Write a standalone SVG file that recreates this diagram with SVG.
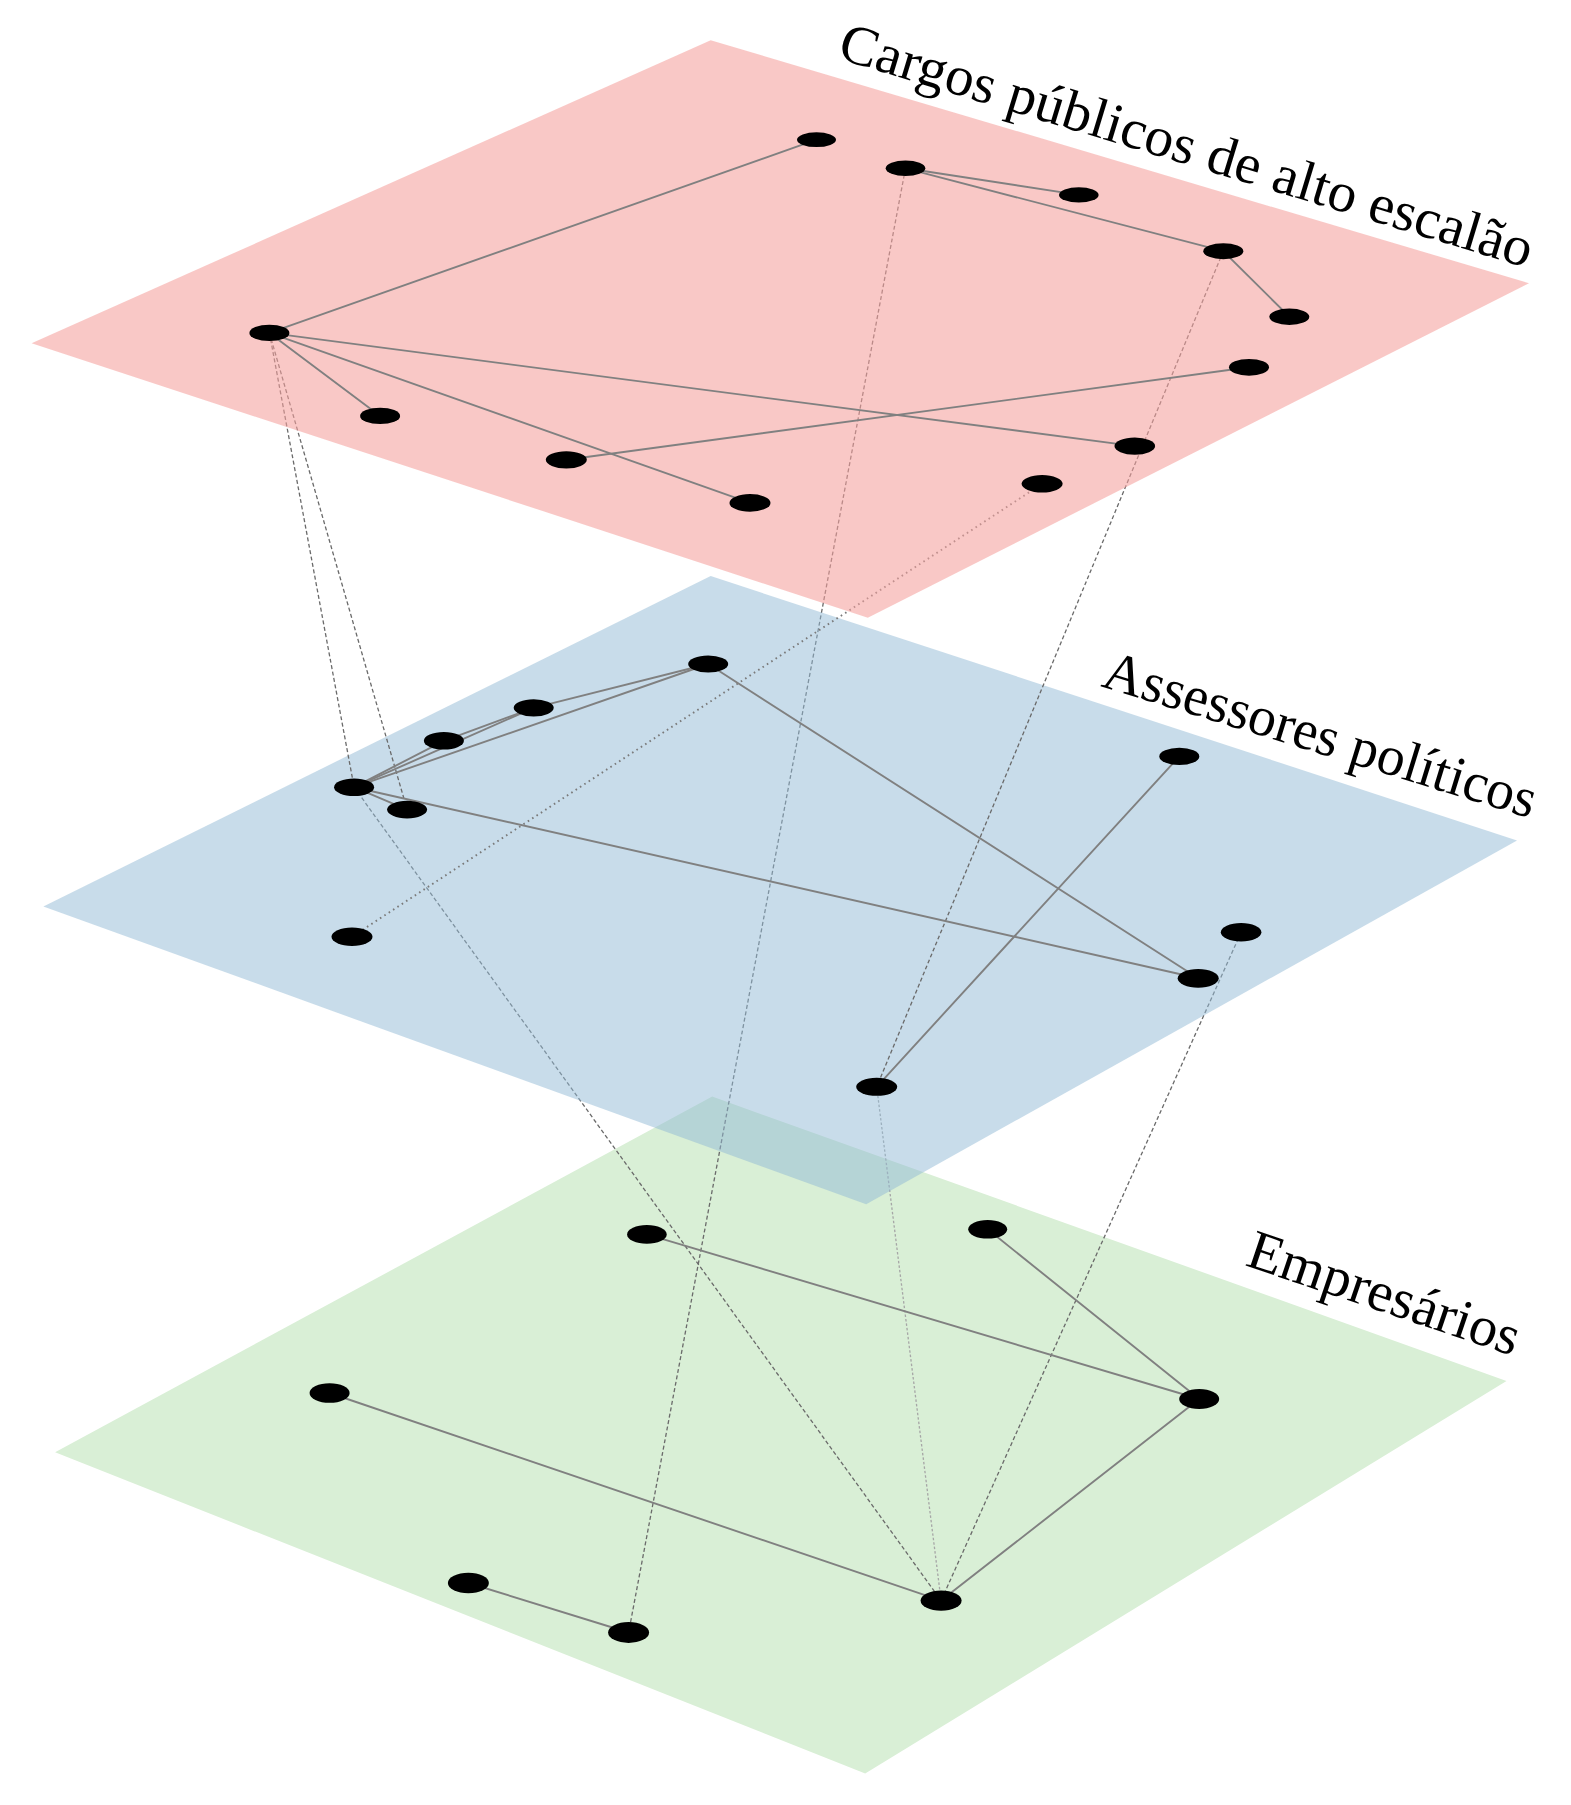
<svg xmlns="http://www.w3.org/2000/svg" width="1571" height="1805" viewBox="0 0 1571 1805">
<style>
.edge{stroke:#808080;stroke-width:1.9;fill:none;stroke-linecap:round}
.dash{stroke:#6a6a6a;stroke-width:1.3;fill:none;stroke-dasharray:4 2.5}
.dot{stroke:#7a7a7a;stroke-width:1.9;fill:none;stroke-dasharray:1.6 3.6}
.faint{stroke:#a6a6a6;stroke-width:1.3;fill:none;stroke-dasharray:2.5 2}
.node{fill:#000}
.label{font-family:"Liberation Serif","DejaVu Serif",serif;font-size:56px;fill:#000}
</style>

<!-- bottom plane -->
<polygon id="plane-empresarios" points="55.1,1452.2 712.2,1096.6 1506.5,1381 865.2,1773.5" fill="#d9efd6"/>

<!-- connectors reaching the bottom layer (covered by upper planes) -->
<g id="connectors-to-bottom">
  <line class="dash" x1="905.5" y1="168.3" x2="628.6" y2="1632.5"/>
  <line class="dash" x1="354.1" y1="787.2" x2="941.1" y2="1600.6"/>
  <line class="faint" x1="876.7" y1="1086.8" x2="941.1" y2="1600.6"/>
  <line class="dash" x1="1241.1" y1="932.3" x2="941.1" y2="1600.6"/>
</g>

<!-- middle plane -->
<polygon id="plane-assessores" points="43.4,906.4 710.7,576.1 1517,840.4 866.2,1204.2" fill="#91b9d5" fill-opacity="0.5"/>

<!-- connectors from top to middle layer -->
<g id="connectors-top-middle">
  <line class="dash" x1="269.4" y1="332.9" x2="354.1" y2="787.2"/>
  <line class="dash" x1="269.4" y1="332.9" x2="407.1" y2="809.6"/>
  <line class="dot" x1="1042.1" y1="483.8" x2="352" y2="936.8"/>
  <line class="dash" x1="1223.3" y1="251.2" x2="876.7" y2="1086.8"/>
</g>

<!-- top plane -->
<polygon id="plane-cargos" points="31.6,343.3 710.7,40.2 1529,283.2 867.8,617.7" fill="#f5a19c" fill-opacity="0.58"/>

<!-- intra-layer connectors -->
<g id="connectors">
  <line class="edge" x1="269.4" y1="332.9" x2="816.5" y2="139.7"/>
  <line class="edge" x1="269.4" y1="332.9" x2="380.1" y2="415.9"/>
  <line class="edge" x1="269.4" y1="332.9" x2="750" y2="502.9"/>
  <line class="edge" x1="269.4" y1="332.9" x2="1134.8" y2="446.1"/>
  <line class="edge" x1="566.3" y1="459.8" x2="1249" y2="367.3"/>
  <line class="edge" x1="905.5" y1="168.3" x2="1078.8" y2="194.9"/>
  <line class="edge" x1="905.5" y1="168.3" x2="1223.3" y2="251.2"/>
  <line class="edge" x1="1223.3" y1="251.2" x2="1289.3" y2="316.7"/>

  <line class="edge" x1="354.1" y1="787.2" x2="443.9" y2="740.8"/>
  <line class="edge" x1="354.1" y1="787.2" x2="533.7" y2="707.8"/>
  <line class="edge" x1="443.9" y1="740.8" x2="533.7" y2="707.8"/>
  <line class="edge" x1="533.7" y1="707.8" x2="708.2" y2="664"/>
  <line class="edge" x1="354.1" y1="787.2" x2="708.2" y2="664"/>
  <line class="edge" x1="354.1" y1="787.2" x2="407.1" y2="809.6"/>
  <line class="edge" x1="354.1" y1="787.2" x2="1198.2" y2="978.3"/>
  <line class="edge" x1="708.2" y1="664" x2="1198.2" y2="978.3"/>
  <line class="edge" x1="1179.3" y1="756.4" x2="876.7" y2="1086.8"/>

  <line class="edge" x1="646.9" y1="1234.4" x2="1199.2" y2="1399"/>
  <line class="edge" x1="987.7" y1="1229.3" x2="1199.2" y2="1399"/>
  <line class="edge" x1="1199.2" y1="1399" x2="941.1" y2="1600.6"/>
  <line class="edge" x1="329.6" y1="1393" x2="941.1" y2="1600.6"/>
  <line class="edge" x1="468.4" y1="1583" x2="628.6" y2="1632.5"/>
</g>

<!-- nodes: top layer -->
<g id="A1"><ellipse class="node" cx="269.4" cy="332.9" rx="20" ry="8.2"/></g>
<g id="A2"><ellipse class="node" cx="380.1" cy="415.9" rx="20" ry="8.2"/></g>
<g id="A3"><ellipse class="node" cx="566.3" cy="459.8" rx="20.5" ry="8.6"/></g>
<g id="A4"><ellipse class="node" cx="750" cy="502.9" rx="20.5" ry="8.8"/></g>
<g id="A5"><ellipse class="node" cx="816.5" cy="139.7" rx="19.5" ry="7.4"/></g>
<g id="A6"><ellipse class="node" cx="905.5" cy="168.3" rx="19.8" ry="7.7"/></g>
<g id="A7"><ellipse class="node" cx="1078.8" cy="194.9" rx="19.8" ry="7.7"/></g>
<g id="A8"><ellipse class="node" cx="1223.3" cy="251.2" rx="20" ry="8"/></g>
<g id="A9"><ellipse class="node" cx="1289.3" cy="316.7" rx="20" ry="8.2"/></g>
<g id="A10"><ellipse class="node" cx="1249" cy="367.3" rx="20" ry="8.4"/></g>
<g id="A11"><ellipse class="node" cx="1134.8" cy="446.1" rx="20.3" ry="8.6"/></g>
<g id="A12"><ellipse class="node" cx="1042.1" cy="483.8" rx="20.5" ry="8.7"/></g>

<!-- nodes: middle layer -->
<g id="B1"><ellipse class="node" cx="708.2" cy="664" rx="20" ry="8.6"/></g>
<g id="B2"><ellipse class="node" cx="533.7" cy="707.8" rx="20" ry="8.6"/></g>
<g id="B3"><ellipse class="node" cx="443.9" cy="740.8" rx="20" ry="8.8"/></g>
<g id="B4"><ellipse class="node" cx="354.1" cy="787.2" rx="20" ry="8.8"/></g>
<g id="B5"><ellipse class="node" cx="407.1" cy="809.6" rx="20" ry="8.8"/></g>
<g id="B6"><ellipse class="node" cx="352" cy="936.8" rx="20.5" ry="9.2"/></g>
<g id="B7"><ellipse class="node" cx="1179.3" cy="756.4" rx="20" ry="8.6"/></g>
<g id="B8"><ellipse class="node" cx="1241.1" cy="932.3" rx="20.3" ry="9.2"/></g>
<g id="B9"><ellipse class="node" cx="1198.2" cy="978.3" rx="20.5" ry="9.4"/></g>
<g id="B10"><ellipse class="node" cx="876.7" cy="1086.8" rx="20.5" ry="9"/></g>

<!-- nodes: bottom layer -->
<g id="C1"><ellipse class="node" cx="646.9" cy="1234.4" rx="19.8" ry="9.4"/></g>
<g id="C2"><ellipse class="node" cx="329.6" cy="1393" rx="20" ry="9.8"/></g>
<g id="C3"><ellipse class="node" cx="468.4" cy="1583" rx="20.5" ry="10.3"/></g>
<g id="C4"><ellipse class="node" cx="628.6" cy="1632.5" rx="20.5" ry="10.4"/></g>
<g id="C5"><ellipse class="node" cx="987.7" cy="1229.3" rx="19.5" ry="9.3"/></g>
<g id="C6"><ellipse class="node" cx="1199.2" cy="1399" rx="20" ry="10"/></g>
<g id="C7"><ellipse class="node" cx="941.1" cy="1600.6" rx="20.5" ry="10.2"/></g>

<!-- layer labels -->
<g id="label-cargos"><text class="label" transform="translate(836,58) rotate(16.9)" textLength="722" lengthAdjust="spacingAndGlyphs">Cargos públicos de alto escalão</text></g>
<g id="label-assessores"><text class="label" transform="translate(1100,686) rotate(17.1)" textLength="450" lengthAdjust="spacingAndGlyphs">Assessores políticos</text></g>
<g id="label-empresarios"><text class="label" transform="translate(1244,1265) rotate(18.7)" textLength="284" lengthAdjust="spacingAndGlyphs">Empresários</text></g>
</svg>
